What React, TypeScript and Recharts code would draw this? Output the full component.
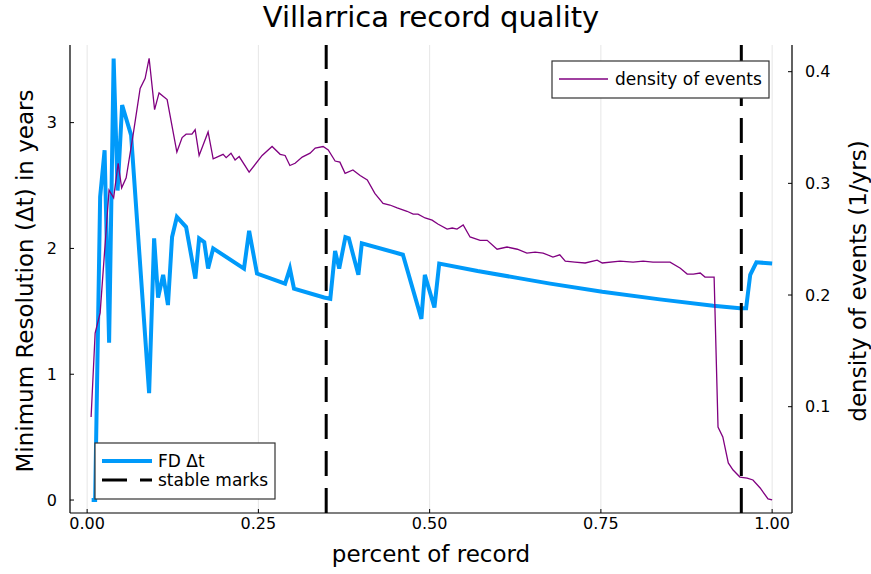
import { ComposedChart, Line, XAxis, YAxis, CartesianGrid, ReferenceLine } from 'recharts';

// FD Δt (left axis, years)
const fdX = [0.0066, 0.0117, 0.019, 0.0255, 0.0321, 0.0387, 0.0445, 0.0511, 0.0642, 0.0905, 0.0978, 0.1036, 0.111, 0.118, 0.124, 0.131, 0.1445, 0.158, 0.1635, 0.171, 0.1766, 0.184, 0.229, 0.2365, 0.248, 0.289, 0.296, 0.302, 0.346, 0.355, 0.362, 0.368, 0.377, 0.382, 0.396, 0.401, 0.461, 0.488, 0.493, 0.507, 0.514, 0.57, 0.632, 0.676, 0.752, 0.836, 0.914, 0.953, 0.962, 0.968, 0.977, 1.0];
const fdY = [0, 0, 2.41, 2.78, 1.25, 3.51, 2.46, 3.14, 2.9, 0.85, 2.08, 1.61, 1.79, 1.55, 2.09, 2.25, 2.17, 1.76, 2.08, 2.05, 1.84, 2.0, 1.84, 2.14, 1.8, 1.72, 1.84, 1.68, 1.61, 1.6, 1.98, 1.84, 2.09, 2.08, 1.79, 2.04, 1.95, 1.44, 1.79, 1.53, 1.88, 1.82, 1.762, 1.72, 1.655, 1.595, 1.545, 1.525, 1.525, 1.79, 1.89, 1.88];

// density of events (right axis, 1/yrs)
const densX = [0.0058, 0.0117, 0.019, 0.032, 0.0387, 0.0453, 0.0504, 0.057, 0.067, 0.0774, 0.0847, 0.0905, 0.0985, 0.105, 0.1168, 0.131, 0.1387, 0.1445, 0.153, 0.1577, 0.1635, 0.1766, 0.184, 0.1985, 0.203, 0.21, 0.216, 0.222, 0.2365, 0.2555, 0.27, 0.2818, 0.289, 0.296, 0.3036, 0.314, 0.3255, 0.333, 0.3445, 0.352, 0.362, 0.369, 0.3766, 0.388, 0.3985, 0.409, 0.42, 0.432, 0.442, 0.4526, 0.467, 0.476, 0.483, 0.4934, 0.5036, 0.512, 0.5255, 0.533, 0.54, 0.549, 0.559, 0.5737, 0.584, 0.5985, 0.613, 0.628, 0.642, 0.654, 0.6657, 0.68, 0.69, 0.698, 0.712, 0.727, 0.7445, 0.752, 0.778, 0.797, 0.8117, 0.826, 0.851, 0.866, 0.876, 0.885, 0.895, 0.902, 0.9153, 0.921, 0.928, 0.936, 0.943, 0.953, 0.9635, 0.972, 0.9825, 0.994, 1.0];
const densY = [0.0908, 0.166, 0.184, 0.294, 0.287, 0.318, 0.296, 0.305, 0.343, 0.385, 0.394, 0.412, 0.366, 0.381, 0.375, 0.328, 0.341, 0.344, 0.344, 0.348, 0.325, 0.346, 0.322, 0.326, 0.323, 0.327, 0.321, 0.324, 0.31, 0.325, 0.333, 0.326, 0.325, 0.316, 0.318, 0.3235, 0.327, 0.3316, 0.333, 0.33, 0.32, 0.319, 0.309, 0.312, 0.307, 0.303, 0.291, 0.282, 0.2806, 0.278, 0.275, 0.2725, 0.2725, 0.269, 0.267, 0.2636, 0.259, 0.26, 0.259, 0.2627, 0.252, 0.249, 0.249, 0.241, 0.243, 0.241, 0.2376, 0.2385, 0.2376, 0.234, 0.236, 0.2304, 0.2295, 0.2287, 0.2313, 0.2287, 0.2304, 0.2295, 0.2304, 0.2295, 0.2295, 0.224, 0.2188, 0.2188, 0.2197, 0.2161, 0.2161, 0.0818, 0.0729, 0.0496, 0.0433, 0.037, 0.036, 0.0344, 0.0272, 0.0174, 0.0165];

const stableMarks = [0.349, 0.955];

const xTicks = [0, 0.25, 0.5, 0.75, 1.0];
const leftTicks = [0, 1, 2, 3];
const rightTicks = [0.1, 0.2, 0.3, 0.4];

const fdData = fdX.map((x, i) => ({ x, y: fdY[i] }));
const densData = densX.map((x, i) => ({ x, y: densY[i] }));

const FONT = 'DejaVu Sans';
const BLUE = '#009AFA';
const PURPLE = '#800080';

export default function App() {
  return (
    <div style={{ position: 'absolute', left: 0, top: 0, width: 871, height: 574, background: '#fff', fontFamily: FONT }}>
      <ComposedChart width={871} height={574} margin={{ top: 45, right: 0, bottom: 0, left: 0 }}>
        <CartesianGrid yAxisId="left" horizontal={false} stroke="#000" strokeOpacity={0.1} />
        <XAxis
          type="number"
          dataKey="x"
          domain={[-0.025, 1.029]}
          allowDataOverflow
          ticks={xTicks}
          tickFormatter={(v: number) => v.toFixed(2)}
          height={61}
          tickSize={-4}
          tickMargin={9}
          axisLine={{ stroke: '#000', strokeWidth: 1.2 }}
          tickLine={{ stroke: '#000' }}
          tick={{ fill: '#000', fontSize: 16, fontFamily: FONT }}
        />
        <YAxis
          yAxisId="left"
          type="number"
          domain={[-0.103, 3.617]}
          allowDataOverflow
          ticks={leftTicks}
          width={70}
          tickSize={-4}
          tickMargin={17}
          axisLine={{ stroke: '#000', strokeWidth: 1.2 }}
          tickLine={{ stroke: '#000' }}
          tick={{ fill: '#000', fontSize: 16, fontFamily: FONT }}
        />
        <YAxis
          yAxisId="right"
          orientation="right"
          type="number"
          domain={[0.0048, 0.4239]}
          allowDataOverflow
          ticks={rightTicks}
          tickFormatter={(v: number) => v.toFixed(1)}
          width={79}
          tickSize={-4}
          tickMargin={17}
          axisLine={{ stroke: '#000', strokeWidth: 1.2 }}
          tickLine={{ stroke: '#000' }}
          tick={{ fill: '#000', fontSize: 16, fontFamily: FONT }}
        />
        <Line
          yAxisId="left"
          data={fdData}
          dataKey="y"
          type="linear"
          stroke={BLUE}
          strokeWidth={4}
          dot={false}
          isAnimationActive={false}
        />
        {stableMarks.map((m) => (
          <ReferenceLine key={m} x={m} yAxisId="left" stroke="#000" strokeWidth={3} strokeDasharray="25 12" />
        ))}
        <Line
          yAxisId="right"
          data={densData}
          dataKey="y"
          type="linear"
          stroke={PURPLE}
          strokeWidth={1.3}
          dot={false}
          isAnimationActive={false}
        />
      </ComposedChart>

      <svg width={871} height={574} style={{ position: 'absolute', left: 0, top: 0, pointerEvents: 'none' }}>
        <text x={431} y={27} textAnchor="middle" fontSize={29} fontFamily={FONT} fill="#000">Villarrica record quality</text>
        <text x={431} y={562} textAnchor="middle" fontSize={23} fontFamily={FONT} fill="#000">percent of record</text>
        <text transform="translate(33,281) rotate(-90)" textAnchor="middle" fontSize={23} fontFamily={FONT} fill="#000">Minimum Resolution (Δt) in years</text>
        <text transform="translate(866,281) rotate(-90)" textAnchor="middle" fontSize={23} fontFamily={FONT} fill="#000">density of events (1/yrs)</text>

        <rect x={95} y={443} width={180} height={56} fill="#fff" stroke="#333" strokeWidth={1.2} />
        <line x1={102} y1={461} x2={152} y2={461} stroke={BLUE} strokeWidth={4} />
        <text x={158} y={467} fontSize={17} fontFamily={FONT} fill="#000">FD Δt</text>
        <line x1={102} y1={480} x2={152} y2={480} stroke="#000" strokeWidth={3} strokeDasharray="25 13" />
        <text x={158} y={486} fontSize={17} fontFamily={FONT} fill="#000">stable marks</text>

        <rect x={552} y={61} width={217} height={37} fill="#fff" stroke="#333" strokeWidth={1.2} />
        <line x1={559} y1={79} x2={608} y2={79} stroke={PURPLE} strokeWidth={1.3} />
        <text x={615} y={85} fontSize={17} fontFamily={FONT} fill="#000">density of events</text>
      </svg>
    </div>
  );
}
